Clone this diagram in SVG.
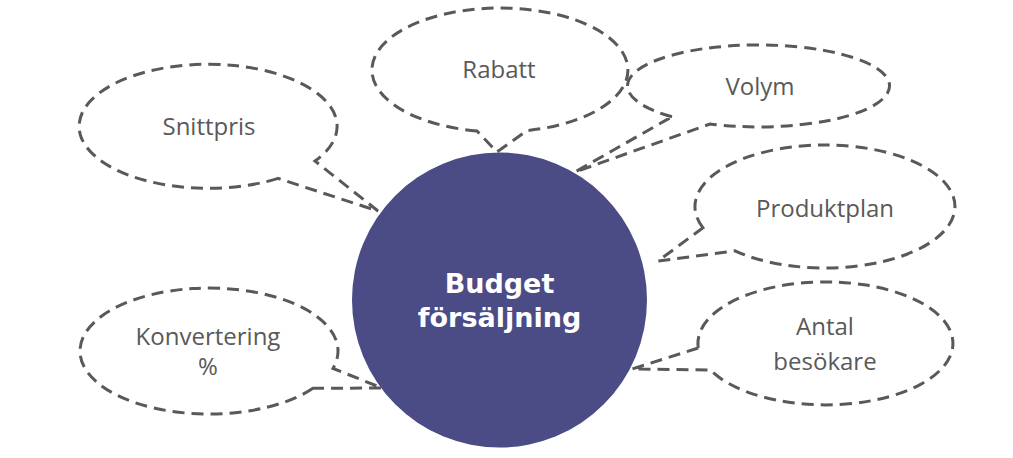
<svg xmlns="http://www.w3.org/2000/svg" width="1013" height="458" viewBox="0 0 1013 458">
<style>
.co{fill:none;stroke:#595959;stroke-width:3;stroke-dasharray:12 7;stroke-linejoin:miter}
.lbl{font-family:"Open Sans","Liberation Sans",sans-serif;font-size:24px;fill:#595959;text-anchor:middle}
.main{font-family:"DejaVu Sans",Verdana,sans-serif;font-weight:bold;font-size:27px;fill:#ffffff;text-anchor:middle}
</style>
<rect width="1013" height="458" fill="#ffffff"/>
<g id="connectors"></g>
<g id="snittpris">
<path class="co" d="M278,178.4 A129,62 0 1 1 315,161 L378,211 Z"/>
<text class="lbl" x="209" y="135">Snittpris</text>
</g>
<g id="rabatt">
<path class="co" d="M477,131 A128,62 0 1 1 527,130.6 L497,152 Z"/>
<text class="lbl" x="499" y="78">Rabatt</text>
</g>
<g id="volym">
<path class="co" d="M672,116.7 A131,41 0 1 1 710,124 L575,172 Z"/>
<text class="lbl" x="760" y="95">Volym</text>
</g>
<g id="produktplan">
<path class="co" d="M703,227.8 A130,61.5 0 1 1 735,250.9 L658,261 Z"/>
<text class="lbl" x="825" y="217">Produktplan</text>
</g>
<g id="antal">
<path class="co" d="M698.3,348 A127.5,61.5 0 1 1 710.5,370 L632,369 Z"/>
<text class="lbl" x="825" y="335">Antal</text>
<text class="lbl" x="825" y="370">besökare</text>
</g>
<g id="konvertering">
<path class="co" d="M313,388.3 A129,63 0 1 1 333,368.4 L382,388 Z"/>
<text class="lbl" x="208" y="345">Konvertering</text>
<text class="lbl" x="208" y="375">%</text>
</g>
<g id="budget">
<circle cx="499.5" cy="300" r="147.5" fill="#4b4b86"/>
<text class="main" x="499.5" y="293">Budget</text>
<text class="main" x="499.5" y="327">försäljning</text>
</g>
</svg>
